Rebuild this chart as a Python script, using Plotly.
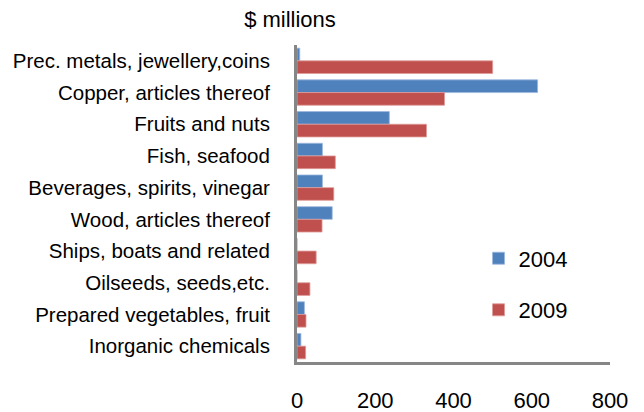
import plotly.graph_objects as go

categories = ["Prec. metals, jewellery,coins", "Copper, articles thereof", "Fruits and nuts",
              "Fish, seafood", "Beverages, spirits, vinegar", "Wood, articles thereof",
              "Ships, boats and related", "Oilseeds, seeds,etc.", "Prepared vegetables, fruit",
              "Inorganic chemicals"]
values_2004 = [7, 615, 236, 65, 65, 90, 0, 0, 19, 10]
values_2009 = [500, 377, 331, 98, 94, 64, 49, 33, 23, 22]
x_ticks = [0, 200, 400, 600, 800]

FONT = "Liberation Sans, Arial, sans-serif"

fig = go.Figure()
fig.add_trace(go.Bar(y=categories, x=values_2004, name="2004", orientation="h",
                     legendgroup="a",
                     marker=dict(color="#4F81BD", line=dict(color="#9DB8DD", width=0.8))))
fig.add_trace(go.Bar(y=categories, x=values_2009, name="2009", orientation="h",
                     legendgroup="b",
                     marker=dict(color="#C0504D", line=dict(color="#DE9A98", width=0.8))))

fig.update_layout(
    width=644, height=412,
    margin=dict(l=297, r=34, t=45, b=50, autoexpand=False),
    paper_bgcolor="white", plot_bgcolor="white",
    barmode="group", bargap=0.2, bargroupgap=0,
    font=dict(family=FONT, color="black"),
    title=dict(text="$ millions", x=290/644, xanchor="center", xref="container",
               y=1 - 19/412, yanchor="middle", automargin=False,
               font=dict(size=22, family=FONT, color="black")),
    legend=dict(x=0.58, y=0.393, xanchor="left", yanchor="top", font=dict(size=22),
                tracegroupgap=20, bgcolor="rgba(0,0,0,0)"),
    xaxis=dict(range=[0, 800], tickvals=x_ticks, showgrid=False, zeroline=False,
               showline=True, linecolor="#868686", linewidth=3, ticks="", automargin=False,
               tickfont=dict(size=22), ticklabelstandoff=17),
    yaxis=dict(autorange="reversed", showgrid=False, zeroline=False, automargin=False,
               showline=True, linecolor="#868686", linewidth=3, ticks="",
               tickfont=dict(size=20.5), ticklabelstandoff=20),
)

fig.write_html("out.html", config={"displayModeBar": False},
               post_script="document.body.style.margin='0';document.body.style.overflow='hidden';")
